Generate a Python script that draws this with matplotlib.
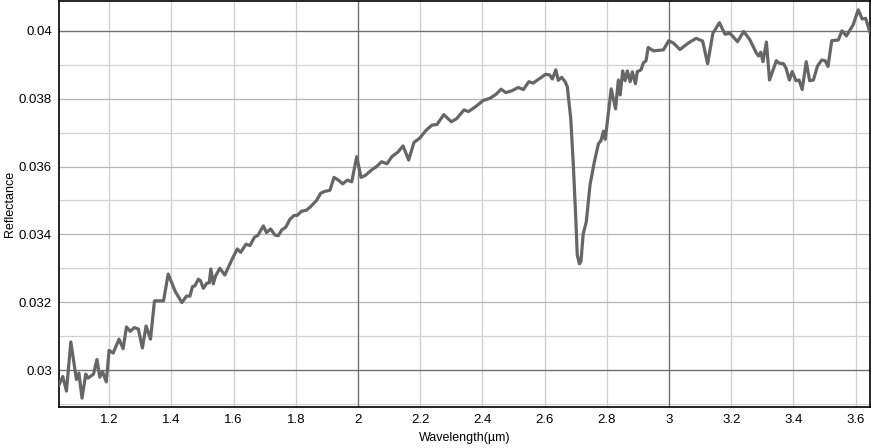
import matplotlib
matplotlib.use("Agg")
import matplotlib.pyplot as plt
from matplotlib.ticker import MultipleLocator, FuncFormatter

plt.rcParams['font.family'] = ['Liberation Sans', 'DejaVu Sans']

wavelength = [
    1.039, 1.051, 1.063, 1.077, 1.095, 1.103, 1.113, 1.125, 1.132, 1.150,
    1.161, 1.170, 1.179, 1.191, 1.200, 1.213, 1.232, 1.245, 1.256, 1.268,
    1.281, 1.294, 1.307, 1.319, 1.333, 1.346, 1.375, 1.390, 1.413, 1.434,
    1.449, 1.460, 1.468, 1.476, 1.487, 1.494, 1.503, 1.514, 1.522, 1.527,
    1.535, 1.542, 1.556, 1.572, 1.594, 1.612, 1.623, 1.640, 1.653, 1.667,
    1.679, 1.696, 1.706, 1.719, 1.733, 1.744, 1.755, 1.768, 1.781, 1.795,
    1.805, 1.818, 1.834, 1.847, 1.867, 1.880, 1.894, 1.910, 1.923, 1.937,
    1.951, 1.966, 1.980, 1.996, 2.010, 2.024, 2.044, 2.060, 2.076, 2.093,
    2.109, 2.129, 2.145, 2.163, 2.180, 2.199, 2.219, 2.238, 2.254, 2.276,
    2.300, 2.317, 2.341, 2.355, 2.376, 2.403, 2.424, 2.444, 2.460, 2.475,
    2.494, 2.515, 2.532, 2.549, 2.563, 2.585, 2.603, 2.616, 2.625, 2.636,
    2.644, 2.655, 2.666, 2.673, 2.684, 2.692, 2.700, 2.705, 2.712, 2.717,
    2.724, 2.734, 2.746, 2.760, 2.773, 2.781, 2.789, 2.795, 2.814, 2.828,
    2.837, 2.843, 2.851, 2.859, 2.866, 2.875, 2.882, 2.892, 2.898, 2.910,
    2.917, 2.926, 2.933, 2.950, 2.982, 2.999, 3.014, 3.035, 3.062, 3.087,
    3.108, 3.124, 3.141, 3.162, 3.180, 3.196, 3.220, 3.240, 3.259, 3.281,
    3.288, 3.295, 3.302, 3.313, 3.323, 3.345, 3.353, 3.368, 3.376, 3.387,
    3.396, 3.408, 3.418, 3.428, 3.441, 3.452, 3.464, 3.477, 3.491, 3.502,
    3.511, 3.523, 3.544, 3.556, 3.570, 3.592, 3.608, 3.621, 3.632, 3.646,
]

reflectance = [
    0.02956, 0.02981, 0.02938, 0.03083, 0.02972, 0.02991, 0.02917, 0.02988, 0.02976, 0.02988,
    0.03031, 0.02979, 0.02995, 0.02965, 0.03058, 0.03050, 0.03091, 0.03063, 0.03127, 0.03114,
    0.03125, 0.03121, 0.03065, 0.03130, 0.03091, 0.03204, 0.03204, 0.03283, 0.03231, 0.03199,
    0.03218, 0.03218, 0.03246, 0.03248, 0.03268, 0.03263, 0.03241, 0.03256, 0.03257, 0.03298,
    0.03254, 0.03277, 0.03300, 0.03280, 0.03324, 0.03357, 0.03347, 0.03371, 0.03367, 0.03391,
    0.03398, 0.03425, 0.03405, 0.03416, 0.03398, 0.03396, 0.03413, 0.03421, 0.03444, 0.03456,
    0.03456, 0.03468, 0.03471, 0.03481, 0.03500, 0.03521, 0.03527, 0.03530, 0.03568, 0.03560,
    0.03549, 0.03560, 0.03555, 0.03629, 0.03568, 0.03574, 0.03590, 0.03600, 0.03614, 0.03608,
    0.03629, 0.03643, 0.03661, 0.03619, 0.03671, 0.03684, 0.03707, 0.03722, 0.03724, 0.03753,
    0.03732, 0.03741, 0.03767, 0.03762, 0.03775, 0.03795, 0.03801, 0.03813, 0.03828, 0.03818,
    0.03823, 0.03833, 0.03827, 0.03850, 0.03846, 0.03860, 0.03872, 0.03870, 0.03858, 0.03885,
    0.03854, 0.03863, 0.03850, 0.03835, 0.03742, 0.03610, 0.03452, 0.03339, 0.03313, 0.03322,
    0.03401, 0.03437, 0.03546, 0.03614, 0.03667, 0.03676, 0.03704, 0.03680, 0.03829, 0.03770,
    0.03855, 0.03811, 0.03882, 0.03853, 0.03882, 0.03850, 0.03879, 0.03844, 0.03880, 0.03885,
    0.03905, 0.03912, 0.03951, 0.03941, 0.03944, 0.03971, 0.03964, 0.03945, 0.03964, 0.03978,
    0.03970, 0.03903, 0.03993, 0.04024, 0.03990, 0.03993, 0.03968, 0.03998, 0.03975, 0.03934,
    0.03926, 0.03937, 0.03909, 0.03967, 0.03855, 0.03912, 0.03905, 0.03903, 0.03890, 0.03855,
    0.03880, 0.03853, 0.03855, 0.03827, 0.03909, 0.03853, 0.03855, 0.03896, 0.03914, 0.03912,
    0.03895, 0.03971, 0.03973, 0.04000, 0.03985, 0.04018, 0.04062, 0.04035, 0.04037, 0.03995,
]

x_label = "Wavelength(\u00b5m)"
y_label = "Reflectance"

W, H = 871, 448
fig = plt.figure(figsize=(W / 100, H / 100), dpi=100)
ax = fig.add_axes([59 / W, 1 - 407 / H, (870 - 59) / W, 406 / H])

ax.plot(wavelength, reflectance, color="#666666", linewidth=2.3, zorder=3,
        solid_joinstyle="round")

ax.set_xlim(wavelength[0], wavelength[-1])
ax.set_ylim(0.02891, 0.04088)

ax.xaxis.set_major_locator(MultipleLocator(0.2))
ax.yaxis.set_major_locator(MultipleLocator(0.002))
ax.yaxis.set_minor_locator(MultipleLocator(0.001))
ax.xaxis.set_major_formatter(FuncFormatter(lambda v, p: ("%.1f" % v).rstrip("0").rstrip(".")))
ax.yaxis.set_major_formatter(FuncFormatter(lambda v, p: ("%.3f" % v).rstrip("0").rstrip(".")))

ax.grid(True, which="major", axis="x", color="#cfcfcf", linewidth=0.9)
ax.grid(True, which="major", axis="y", color="#b5b5b5", linewidth=0.9)
ax.grid(True, which="minor", axis="y", color="#d2d2d2", linewidth=0.9)
for xv in (2, 3):
    ax.axvline(xv, color="#6e6e6e", linewidth=0.9, zorder=1)
for yv in (0.03, 0.04):
    ax.axhline(yv, color="#6e6e6e", linewidth=0.9, zorder=1)
ax.set_axisbelow(True)

ax.tick_params(axis="both", which="both", length=0, labelsize=9.5, colors="black")
ax.tick_params(axis="x", pad=5)
ax.tick_params(axis="y", pad=5)

for s in ax.spines.values():
    s.set_color("black")
    s.set_linewidth(1.2)

fig.text(464.5 / W, 1 - 438 / H, x_label, fontsize=9, ha="center", va="center")
fig.text(10 / W, 1 - 204 / H, y_label, fontsize=9, ha="center", va="center",
         rotation=90)

fig.savefig("out.png", dpi=100)
